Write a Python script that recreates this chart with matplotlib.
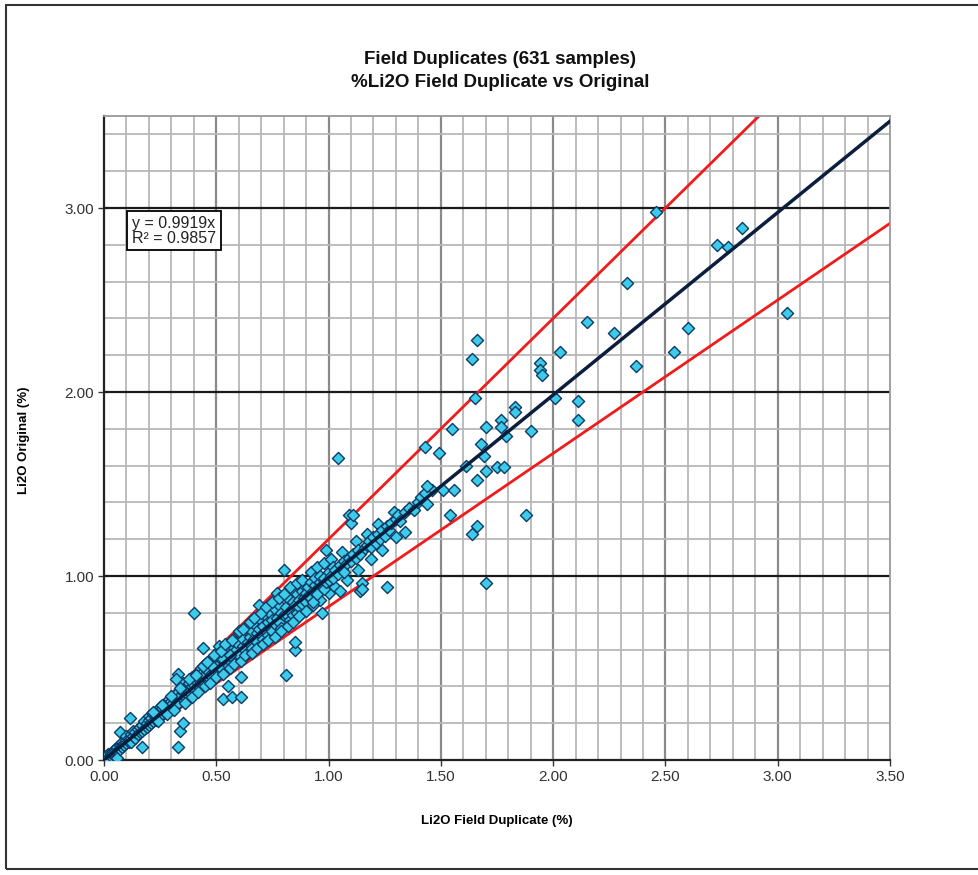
import matplotlib
matplotlib.use('Agg')
import numpy as np
import matplotlib.pyplot as plt
from matplotlib.patches import Rectangle

# values: (field duplicate %, original %)
low_pairs = [
  (0.00, 0.01), (0.01, 0.00), (0.01, 0.02), (0.02, 0.02), (0.02, 0.03),
  (0.02, 0.01), (0.03, 0.03), (0.03, 0.02), (0.03, 0.04), (0.04, 0.05),
  (0.04, 0.03), (0.04, 0.04), (0.05, 0.04), (0.05, 0.06), (0.05, 0.05),
  (0.06, 0.07), (0.06, 0.05), (0.06, 0.01), (0.07, 0.06), (0.07, 0.08),
  (0.07, 0.15), (0.08, 0.08), (0.08, 0.07), (0.08, 0.10), (0.09, 0.09),
  (0.09, 0.08), (0.10, 0.11), (0.10, 0.09), (0.10, 0.13), (0.11, 0.10),
  (0.11, 0.12), (0.12, 0.12), (0.12, 0.14), (0.12, 0.10), (0.13, 0.13),
  (0.13, 0.16), (0.14, 0.12), (0.14, 0.15), (0.15, 0.14), (0.15, 0.17),
  (0.116, 0.23), (0.16, 0.15), (0.16, 0.18), (0.17, 0.16), (0.17, 0.07),
  (0.17, 0.19), (0.18, 0.17), (0.18, 0.21), (0.19, 0.18), (0.19, 0.20),
  (0.20, 0.22), (0.20, 0.19), (0.20, 0.24), (0.21, 0.20), (0.21, 0.23),
  (0.22, 0.21), (0.22, 0.25), (0.23, 0.24), (0.23, 0.22), (0.24, 0.23),
  (0.24, 0.27), (0.25, 0.26), (0.25, 0.24), (0.25, 0.29), (0.26, 0.25),
  (0.26, 0.28), (0.27, 0.30), (0.27, 0.26), (0.28, 0.29), (0.28, 0.27),
  (0.29, 0.31), (0.29, 0.33), (0.30, 0.28), (0.30, 0.32), (0.30, 0.30),
  (0.31, 0.34), (0.31, 0.29), (0.32, 0.33), (0.32, 0.36), (0.33, 0.07),
  (0.33, 0.31), (0.34, 0.16), (0.34, 0.35), (0.35, 0.20), (0.35, 0.37),
  (0.33, 0.47), (0.35, 0.42), (0.32, 0.44),
]

mid_pairs = [
  (0.36, 0.34), (0.36, 0.39), (0.37, 0.38), (0.37, 0.36), (0.38, 0.37),
  (0.38, 0.42), (0.39, 0.40), (0.39, 0.45), (0.40, 0.80), (0.40, 0.41),
  (0.40, 0.38), (0.41, 0.43), (0.41, 0.47), (0.42, 0.40), (0.42, 0.44),
  (0.43, 0.46), (0.43, 0.50), (0.44, 0.61), (0.44, 0.43), (0.44, 0.48),
  (0.45, 0.46), (0.45, 0.52), (0.46, 0.44), (0.46, 0.49), (0.47, 0.48),
  (0.47, 0.54), (0.48, 0.50), (0.48, 0.45), (0.49, 0.52), (0.49, 0.56),
  (0.50, 0.49), (0.50, 0.54), (0.51, 0.62), (0.51, 0.52), (0.51, 0.58),
  (0.52, 0.50), (0.52, 0.55), (0.53, 0.33), (0.53, 0.57), (0.54, 0.53),
  (0.54, 0.60), (0.55, 0.40), (0.55, 0.56), (0.55, 0.62), (0.56, 0.54),
  (0.56, 0.59), (0.57, 0.34), (0.57, 0.58), (0.58, 0.61), (0.58, 0.55),
  (0.59, 0.60), (0.59, 0.64), (0.60, 0.69), (0.60, 0.57), (0.61, 0.45),
  (0.61, 0.34), (0.45, 0.50), (0.48, 0.51), (0.53, 0.55), (0.56, 0.57),
  (0.62, 0.62), (0.62, 0.66), (0.63, 0.60), (0.63, 0.72), (0.64, 0.64),
  (0.64, 0.58), (0.65, 0.67), (0.65, 0.63), (0.66, 0.70), (0.66, 0.61),
  (0.67, 0.66), (0.67, 0.74), (0.68, 0.69), (0.68, 0.64), (0.69, 0.84),
  (0.69, 0.71), (0.70, 0.68), (0.70, 0.76), (0.71, 0.73), (0.71, 0.66),
  (0.72, 0.70), (0.72, 0.78), (0.73, 0.75), (0.73, 0.68), (0.74, 0.72),
  (0.74, 0.80), (0.75, 0.76), (0.75, 0.70), (0.76, 0.74), (0.76, 0.82),
  (0.77, 0.91), (0.77, 0.77), (0.78, 0.75), (0.78, 0.84), (0.79, 0.80),
  (0.79, 0.72), (0.80, 1.03), (0.80, 0.79), (0.81, 0.46), (0.81, 0.83),
  (0.82, 0.78), (0.82, 0.88), (0.83, 0.81), (0.83, 0.76), (0.84, 0.86),
  (0.84, 0.79), (0.85, 0.60), (0.85, 0.64), (0.85, 0.84), (0.86, 0.90),
  (0.86, 0.80), (0.87, 0.87), (0.87, 0.83), (0.88, 0.92), (0.88, 0.85),
  (0.89, 0.88), (0.89, 0.95), (0.90, 0.86), (0.90, 0.91),
]

spread_pairs = [
  (0.22, 0.26), (0.24, 0.21), (0.26, 0.30), (0.28, 0.25), (0.30, 0.35),
  (0.31, 0.27), (0.34, 0.39), (0.36, 0.31), (0.38, 0.44), (0.39, 0.34),
  (0.41, 0.46), (0.42, 0.37), (0.44, 0.51), (0.45, 0.40), (0.46, 0.53),
  (0.47, 0.42), (0.49, 0.57), (0.50, 0.45), (0.52, 0.59), (0.53, 0.47),
  (0.54, 0.63), (0.56, 0.50), (0.57, 0.65), (0.58, 0.52), (0.60, 0.70),
  (0.61, 0.54), (0.62, 0.71), (0.63, 0.57), (0.65, 0.75), (0.66, 0.58),
  (0.67, 0.77), (0.68, 0.61), (0.70, 0.80), (0.71, 0.63), (0.72, 0.83),
  (0.73, 0.65), (0.75, 0.86), (0.76, 0.67), (0.78, 0.88), (0.79, 0.70),
  (0.80, 0.90), (0.82, 0.73), (0.83, 0.94), (0.84, 0.75), (0.86, 0.96),
  (0.87, 0.78), (0.88, 0.98), (0.90, 0.81), (0.92, 1.02), (0.93, 0.84),
  (0.95, 1.05), (0.96, 0.87), (0.98, 1.07), (1.00, 0.91), (1.01, 1.09),
  (1.03, 0.94), (1.06, 1.13), (1.08, 0.98), (1.12, 1.19), (1.13, 1.03),
  (1.17, 1.23), (1.19, 1.09), (1.22, 1.28), (1.24, 1.14), (1.29, 1.35),
  (1.30, 1.21),
]

upper_pairs = [
  (0.91, 0.89), (0.91, 0.94), (0.92, 0.88), (0.92, 0.97), (0.93, 0.92),
  (0.93, 0.86), (0.94, 0.95), (0.94, 0.99), (0.95, 0.93), (0.95, 0.90),
  (0.96, 0.97), (0.96, 1.00), (0.97, 0.80), (0.97, 0.95), (0.98, 0.99),
  (0.98, 0.93), (0.99, 1.14), (0.99, 0.97), (1.00, 1.02), (1.00, 0.98),
  (1.01, 1.00), (1.02, 1.05), (1.02, 0.99), (1.03, 1.03), (1.04, 1.64),
  (1.04, 1.01), (1.05, 0.92), (1.05, 1.06), (1.06, 1.04), (1.07, 1.08),
  (1.07, 1.02), (1.08, 1.07), (1.09, 1.33), (1.09, 1.10), (1.10, 1.29),
  (1.10, 1.08), (1.11, 1.33), (1.11, 1.12), (1.12, 1.10), (1.13, 1.14),
  (1.14, 0.92), (1.14, 1.12), (1.15, 0.96), (1.15, 0.93), (1.16, 1.15),
  (1.17, 1.17), (1.18, 1.19), (1.19, 1.16), (1.20, 1.21), (1.21, 1.18),
  (1.22, 1.23), (1.23, 1.20), (1.24, 1.25), (1.25, 1.22), (1.26, 0.94),
  (1.26, 1.27), (1.27, 1.25), (1.28, 1.29), (1.30, 1.31), (1.31, 1.33),
  (1.32, 1.30), (1.34, 1.24), (1.34, 1.35), (1.36, 1.37), (1.38, 1.36),
  (1.40, 1.40), (1.41, 1.43), (1.46, 1.47),
]

high_pairs = [
  (1.43, 1.45), (1.44, 1.49), (1.44, 1.39), (1.43, 1.70), (1.49, 1.67),
  (1.51, 1.47), (1.56, 1.47), (1.54, 1.33), (1.55, 1.80), (1.61, 1.60),
  (1.64, 1.23), (1.66, 1.27), (1.66, 1.52), (1.64, 2.18), (1.66, 2.28),
  (1.65, 1.97), (1.68, 1.72), (1.69, 1.65), (1.70, 1.81), (1.70, 1.57),
  (1.70, 0.96), (1.75, 1.59), (1.78, 1.59), (1.77, 1.85), (1.77, 1.81),
  (1.79, 1.76), (1.83, 1.92), (1.83, 1.89), (1.88, 1.33), (1.90, 1.79),
  (1.94, 2.16), (1.94, 2.12), (1.95, 2.09), (2.01, 1.97), (2.03, 2.22),
  (2.11, 1.95), (2.11, 1.85), (2.15, 2.38), (2.27, 2.32), (2.33, 2.59),
  (2.37, 2.14), (2.46, 2.98), (2.54, 2.22), (2.60, 2.35), (2.73, 2.80),
  (2.78, 2.79), (2.84, 2.89), (3.04, 2.43),
]

SLOPE = 0.9919
R2 = 0.9857
LIMIT_HI = 1.2        # +20% line
LIMIT_LO = 1 / 1.2    # -20% line
AX_MAX = 3.5

pts = np.array(low_pairs + mid_pairs + spread_pairs + upper_pairs + high_pairs)
dup = pts[:, 0]
orig = pts[:, 1]

plt.rcParams['font.family'] = ['Liberation Sans', 'DejaVu Sans']

fig = plt.figure(figsize=(9.79, 8.75), dpi=100)
ax = fig.add_axes([104 / 979, 115 / 875, 786 / 979, 644 / 875])

# grid
for xv in np.arange(0.1, AX_MAX, 0.1):
  major = abs(xv / 0.5 - round(xv / 0.5)) < 1e-6
  ax.axvline(xv, color='#8a8a8a' if major else '#b8b8b8',
             lw=1.6 if major else 1.3, zorder=0)
for yv in np.arange(0.2, AX_MAX, 0.2):
  ax.axhline(yv, color='#b8b8b8', lw=1.3, zorder=0)
for yv in [1.0, 2.0, 3.0]:
  ax.axhline(yv, color='#1a1a1a', lw=1.6, zorder=0.5)

xs = np.array([0, AX_MAX])
ax.plot(xs, LIMIT_HI * xs, color='#f01c1c', lw=2.0, zorder=2)
ax.plot(xs, LIMIT_LO * xs, color='#f01c1c', lw=2.0, zorder=2)

ax.scatter(dup, orig, marker='D', s=38, facecolor='#3ccbe8',
           edgecolor='#0d3b66', linewidth=1.0, zorder=3)

ax.plot(xs, SLOPE * xs, color='#0b1e3d', lw=2.5, zorder=4)

ax.text(0.125, 2.955, f'y = {SLOPE}x\nR² = {R2}', fontsize=11.5,
        va='top', ha='left', linespacing=0.95, zorder=5, color='#222222',
        bbox=dict(boxstyle='square,pad=0.3', fc='white', ec='black', lw=1.3))

ax.set_xlim(0, AX_MAX)
ax.set_ylim(0, AX_MAX)
ax.set_xticks(np.arange(0, 3.51, 0.5))
ax.set_yticks([0, 1, 2, 3])
ax.xaxis.set_major_formatter(lambda v, p: f'{v:.2f}')
ax.yaxis.set_major_formatter(lambda v, p: f'{v:.2f}')
for lab in ax.get_xticklabels() + ax.get_yticklabels():
  lab.set_fontsize(11)
  lab.set_color('#333333')
ax.tick_params(length=4, width=1, color='#333333', pad=3)

for side in ['left', 'bottom']:
  ax.spines[side].set_color('#222222')
  ax.spines[side].set_linewidth(1.6)
for side in ['top', 'right']:
  ax.spines[side].set_color('#999999')
  ax.spines[side].set_linewidth(1.3)

ax.set_xlabel('Li2O Field Duplicate (%)', fontsize=9.5, fontweight='bold')
ax.xaxis.set_label_coords(0.5, -0.085)
ax.set_ylabel('Li2O Original (%)', fontsize=9.5, fontweight='bold')
ax.yaxis.set_label_coords(-0.094, 0.497)

fig.text(0.511, 1 - 71 / 875,
         'Field Duplicates (631 samples)\n%Li2O Field Duplicate vs Original',
         ha='center', va='center', fontsize=13.5, fontweight='bold',
         linespacing=1.4, color='#111111')

# outer frame
fig.patches.append(Rectangle((6 / 979, 6 / 875), 1.0, 864 / 875,
                             transform=fig.transFigure, fill=False,
                             ec='#333333', lw=1.5))

fig.savefig('out.png', dpi=100)
